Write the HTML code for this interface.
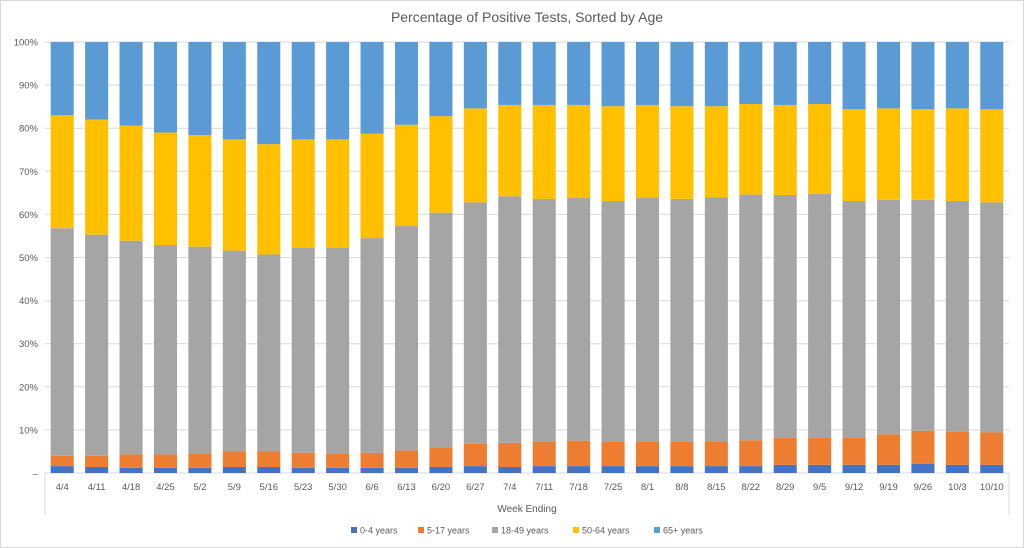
<!DOCTYPE html>
<html><head><meta charset="utf-8"><style>
body{margin:0;background:#fff;font-family:"Liberation Sans",sans-serif}
svg{display:block}
</style></head><body>
<svg id="c" width="1024" height="548" xmlns="http://www.w3.org/2000/svg">
<rect x="0.5" y="0.5" width="1023" height="547" fill="#fff" stroke="#d9d9d9"/>
<text x="527" y="22" text-anchor="middle" font-size="14" fill="#595959">Percentage of Positive Tests, Sorted by Age</text>
<g id="grid"></g><g id="bars"></g><g id="xl"></g>
<text x="527" y="512" text-anchor="middle" font-size="10" fill="#595959">Week Ending</text>
<g id="legend"></g>
</svg>
<script>
const categories=["4/4","4/11","4/18","4/25","5/2","5/9","5/16","5/23","5/30","6/6","6/13","6/20","6/27","7/4","7/11","7/18","7/25","8/1","8/8","8/15","8/22","8/29","9/5","9/12","9/19","9/26","10/3","10/10"];
const seriesNames=["0-4 years","5-17 years","18-49 years","50-64 years","65+ years"];
const seriesColors=["#4472c4","#ed7d31","#a5a5a5","#ffc000","#5b9bd5"];
const age0to4=[1.6,1.4,1.2,1.2,1.2,1.4,1.4,1.2,1.2,1.2,1.2,1.4,1.6,1.4,1.6,1.6,1.6,1.6,1.6,1.6,1.6,1.9,1.9,1.9,1.9,2.1,1.9,1.9];
const age5to17=[2.4,2.6,3.1,3.1,3.3,3.6,3.6,3.5,3.3,3.5,4.0,4.6,5.2,5.6,5.6,5.9,5.6,5.6,5.6,5.6,6.0,6.3,6.3,6.3,7.1,7.7,7.7,7.5];
const age18to49=[52.8,51.3,49.6,48.6,48.0,46.6,45.7,47.5,47.7,49.8,52.1,54.4,56.0,57.2,56.4,56.3,55.9,56.6,56.4,56.8,57.0,56.3,56.6,54.9,54.4,53.6,53.5,53.4];
const age50to64=[26.2,26.7,26.7,26.1,25.9,25.8,25.6,25.2,25.2,24.2,23.5,22.4,21.8,21.2,21.8,21.6,22.0,21.6,21.5,21.1,21.0,20.9,20.8,21.3,21.2,21.0,21.5,21.6];
const age65plus=[17,18,19.4,21,21.6,22.6,23.7,22.6,22.6,21.3,19.2,17.2,15.4,14.6,14.6,14.6,14.9,14.6,14.9,14.9,14.4,14.6,14.4,15.6,15.4,15.6,15.4,15.6];
const yTicks=[0,10,20,30,40,50,60,70,80,90,100];
const series=[age0to4,age5to17,age18to49,age50to64,age65plus];
const NS="http://www.w3.org/2000/svg";
const X0=45,X1=1009,Y0=473,Y1=42;
const band=(X1-X0)/categories.length, barW=band*0.67;
const y=v=>Y0-(Y0-Y1)*v/100;
const xc=i=>X0+band*(i+0.5);
function mk(tag,at,parent){const e=document.createElementNS(NS,tag);for(const k in at)e.setAttribute(k,at[k]);document.getElementById(parent).appendChild(e);return e;}
yTicks.forEach(t=>{
 if(t>0){const l=mk('line',{x1:X0,x2:X1,y1:y(t),y2:y(t),stroke:'#d9d9d9'},'grid');
 
 }
 const tx=mk('text',{x:38,y:y(t)+3.5,'text-anchor':'end','font-size':'9.5',fill:'#595959'},'grid');
 tx.textContent=t===0?'–':t+'%';
 
 
});
const ax=mk('path',{d:`M${X0},${Y0}H${X1}M${X0},${Y0}V515M${X1},${Y0}V515`,stroke:'#d9d9d9',fill:'none'},'grid');


categories.forEach((c,i)=>{
 const tot=series.reduce((s,a)=>s+a[i],0);let acc=0;
 series.forEach((a,si)=>{
  const v=a[i]/tot*100;
  const r=mk('rect',{x:xc(i)-barW/2,y:y(acc+v),width:barW,height:y(acc)-y(acc+v),fill:seriesColors[si]},'bars');
  
  
  acc+=v;
 });
 const t=mk('text',{x:xc(i),y:490,'text-anchor':'middle','font-size':'9.5',fill:'#595959'},'xl');
 t.textContent=c;
 
 
});
const lx=[351,418,492,573,654];
seriesNames.forEach((n,i)=>{
 const r=mk('rect',{x:lx[i],y:527,width:6,height:6,fill:seriesColors[i]},'legend');
 
 
 const t=mk('text',{x:lx[i]+9,y:533.5,'font-size':'9','fill':'#595959'},'legend');
 t.textContent=n;
 
 
});
</script>
</body></html>
